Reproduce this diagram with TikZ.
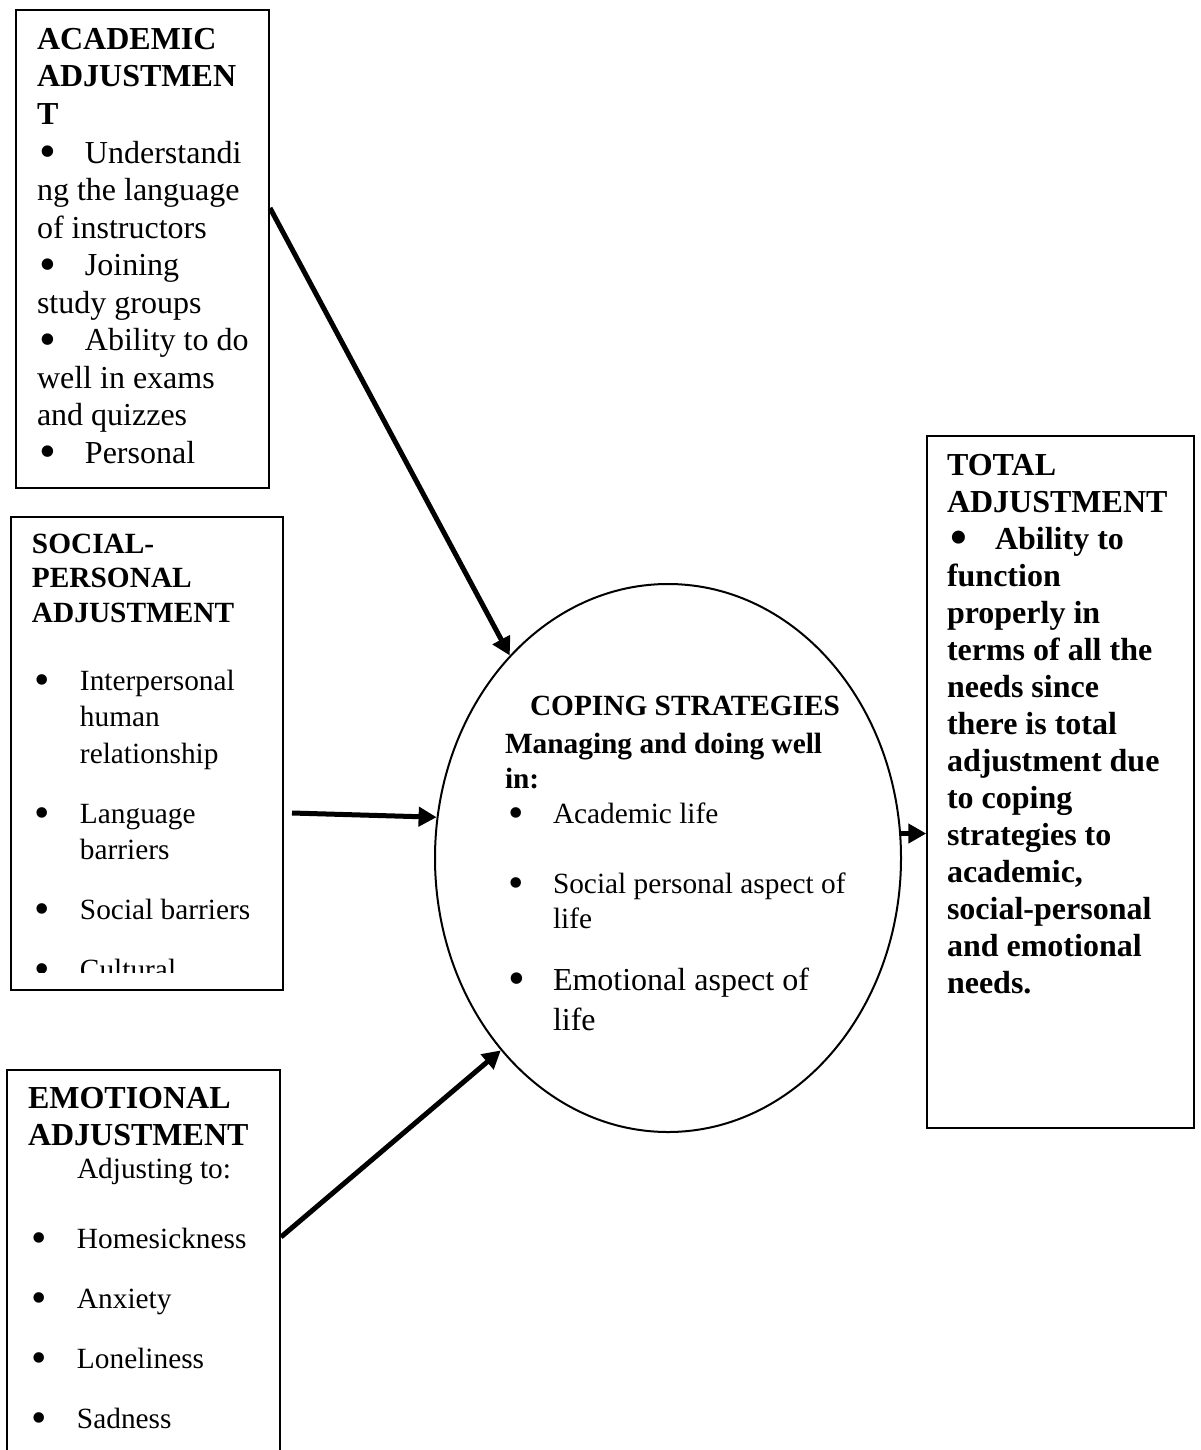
\documentclass[tikz,border=0pt]{standalone}
\usepackage{fontspec}
\setmainfont{Liberation Serif}
\usetikzlibrary{arrows.meta,shapes.geometric,fit}
\newcommand\itemdot{\makebox[24pt][l]{\hspace*{1.5pt}\raisebox{-0.15em}{\scalebox{1.5}{\textbullet}}}}
\newcommand\indentcont{\hspace*{24pt}}
\newcommand\firststrut{\rule{0pt}{13pt}}
\begin{document}
\begin{tikzpicture}[x=0.5pt,y=-0.5pt,
  box/.style={draw, line width=0.75pt, inner sep=0pt, rectangle},
  arr/.style={line width=2.5pt, -{Triangle[length=9pt,width=9.5pt]}},
  txt/.style={anchor=north west, inner sep=0pt, outer sep=0pt, align=left, yshift=13pt},
  fsixteen/.style={font=\fontsize{16pt}{#1}\selectfont},
  fsmall/.style={font=\fontsize{14.67pt}{#1}\selectfont},
  fsixteenb/.style={font=\fontsize{16pt}{#1}\selectfont\bfseries},
  fsmallb/.style={font=\fontsize{14.67pt}{#1}\selectfont\bfseries},
]
\useasboundingbox (0,0) rectangle (1200,1450);
\clip (0,0) rectangle (1200,1450);

% boxes
\node[box, fit={(16,10) (269,488)}] (acad) {};
\node[box, fit={(11,517) (283,990)}] (soc) {};
\node[box, fit={(7,1070) (280,1470)}] (emo) {};
\node[box, fit={(927,436) (1194,1128)}] (tot) {};
\node[ellipse, draw, line width=1pt, inner sep=0pt, minimum width=233pt, minimum height=274pt] (cope) at (668,858) {};

% academic text
\node[txt, fsixteen=18.75pt] (acadtxt) at (37,49) {\firststrut\textbf{ACADEMIC}\\\textbf{ADJUSTMEN}\\\textbf{T}\\[0.75pt]\itemdot Understandi\\ng the language\\of instructors\\\itemdot Joining\\study groups\\\itemdot Ability to do\\well in exams\\and quizzes\\\itemdot Personal};

% social text
\node[txt, fsmallb=17.25pt] (soctitle) at (32,553) {\firststrut SOCIAL-\\PERSONAL\\ADJUSTMENT};
\begin{scope}
\clip (11,517) rectangle (283,972);
\node[txt, fsmall=18.25pt] (socitems) at (32,690) {\firststrut\itemdot Interpersonal\\\indentcont human\\\indentcont relationship\\[11.75pt]\itemdot Language\\\indentcont barriers\\[11.75pt]\itemdot Social barriers\\[11.75pt]\itemdot Cultural};
\end{scope}

% emotional text
\node[txt, fsixteenb=18.5pt] (emotitle) at (28,1108) {\firststrut EMOTIONAL\\ADJUSTMENT};
\node[txt, fsmall=18pt] (emosub) at (77,1178) {\firststrut Adjusting to:};
\node[txt, fsmall=30pt] (emoitems) at (29,1248) {\firststrut\itemdot Homesickness\\\itemdot Anxiety\\\itemdot Loneliness\\\itemdot Sadness};

% coping text
\node[txt, fsmallb=17.5pt] (copetitle) at (530,715) {\firststrut COPING STRATEGIES};
\node[txt, fsmallb=17.5pt] (copesub) at (505,753) {\firststrut Managing and doing well\\in:};
\node[txt, fsmall=17.5pt] (copeacad) at (505,823) {\firststrut\itemdot Academic life};
\node[txt, fsmall=17.5pt] (copesoc) at (505,893) {\firststrut\itemdot Social personal aspect of\\\indentcont life};
\node[txt, fsixteen=20pt] (copeemo) at (505,990) {\firststrut\itemdot Emotional aspect of\\\indentcont life};

% total text
\node[txt, fsixteenb=18.5pt] (tottxt) at (947,475) {\firststrut TOTAL\\ADJUSTMENT\\\itemdot Ability to\\function\\properly in\\terms of all the\\needs since\\there is total\\adjustment due\\to coping\\strategies to\\academic,\\social-personal\\and emotional\\needs.};

% connectors
\coordinate (acadout) at (270,208);
\coordinate (socout) at (292,813);
\coordinate (emoout) at (281,1237);
\draw[arr] (acadout) -- (cope.128);
\draw[arr] (socout) -- (cope.170);
\draw[arr] (emoout) -- (cope.229);
\draw[arr] (cope.6) -- (cope.6 -| tot.west);
\end{tikzpicture}
\end{document}
